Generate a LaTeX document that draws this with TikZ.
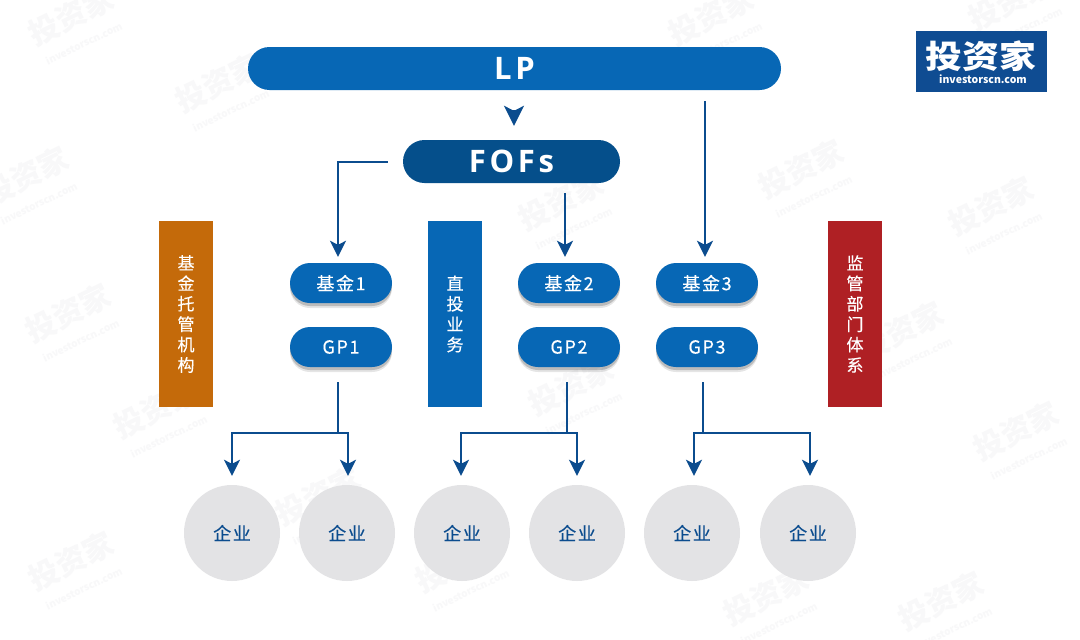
\documentclass[tikz,border=0pt]{standalone}
\usepackage{fontspec}
\setmainfont[FakeBold=0.35]{Noto Sans CJK SC}
\newfontfamily\plainfont{Noto Sans CJK SC}
\newfontfamily\spacedfont[LetterSpace=9,FakeBold=0.35]{Noto Sans CJK SC}
\newfontfamily\logofont[FakeStretch=1.15]{Noto Sans CJK SC}
\newfontfamily\headfont[LetterSpace=12]{Open Sans}
\usetikzlibrary{arrows.meta,shadows,calc}
\definecolor{mainblue}{HTML}{0767B5}
\definecolor{deepblue}{HTML}{054F8B}
\definecolor{linkblue}{HTML}{0B4C8E}
\definecolor{sideorange}{HTML}{C46A0A}
\definecolor{sidered}{HTML}{AF2024}
\definecolor{circgray}{HTML}{E3E3E5}
\definecolor{wmgray}{HTML}{F8F8F9}
\definecolor{logoblue}{HTML}{0F4C92}
\tikzset{
  x=1pt,y=-1pt,
  header/.style={fill=mainblue,rounded corners=21.5pt,minimum height=43pt,inner sep=0pt,text=white,font=\headfont\bfseries\fontsize{31}{32}\selectfont},
  pill/.style={fill=mainblue,rounded corners=20pt,minimum width=102pt,minimum height=40pt,inner sep=0pt,text=white,font=\spacedfont\fontsize{18}{20}\selectfont,
    drop shadow={shadow xshift=0pt,shadow yshift=-5pt,opacity=.10,fill=black},
    drop shadow={shadow xshift=0pt,shadow yshift=-3pt,opacity=.18,fill=black}},
  sidebar/.style={minimum width=54pt,minimum height=186pt,inner sep=0pt,text=white,align=center,font=\fontsize{17}{20.4}\selectfont},
  firm/.style={circle,fill=circgray,minimum size=96pt,inner sep=0pt,text=linkblue,font=\spacedfont\fontsize{18}{20}\selectfont},
  link/.style={draw=linkblue,line width=2pt},
  arr/.style={link,-{Stealth[length=16pt,width=16pt,inset=4pt]}},
  bigarr/.style={link,-{Stealth[length=20pt,width=20pt,inset=5pt]}},
  wm/.style={rotate=26,text=wmgray,align=center,inner sep=0pt,font=\plainfont\bfseries\fontsize{30}{26}\selectfont},
}
\newcommand{\wmtext}{投资家\\[-3pt]{\fontsize{10}{10}\selectfont investorscn.com}}
\begin{document}
\begin{tikzpicture}
\useasboundingbox (0,0) rectangle (1080,640);
\fill[white] (0,0) rectangle (1080,640);
% watermarks
\foreach \i/\a/\b in {1/75/25,2/222/92,3/715/25,4/1015/10,5/30/185,6/805/178,7/995/215,8/72/322,9/565/210,10/905/340,11/160/418,12/575/395,13/1020/440,14/322/505,15/75/570,16/462/572,17/770/605,18/945/610}
  \node[wm] (wm\i) at (\a,\b) {\wmtext};
% header
\node[header,minimum width=533pt] (lp) at (514.5,68.5) {LP};
\node[header,minimum width=217pt,fill=deepblue] (fof) at (511.5,161.5) {FOFs};
% logo
\node[fill=logoblue,minimum width=131pt,minimum height=61pt,inner sep=0pt] (logo) at (981.5,61.5) {};
\node[text=white,font=\logofont\bfseries\fontsize{32}{32}\selectfont,inner sep=0pt] (logoa) at (981,56.5) {投资家};
\node[text=white,font=\plainfont\bfseries\fontsize{10.5}{11}\selectfont,inner sep=0pt] (logob) at (983,79) {investorscn.com};
% side bars
\node[sidebar,fill=sideorange] (s1) at (186,314) {基\\金\\托\\管\\机\\构};
\node[sidebar,fill=mainblue] (s2) at (455,314) {直\\投\\业\\务};
\node[sidebar,fill=sidered] (s3) at (855,314) {监\\管\\部\\门\\体\\系};
% funds
\node[pill] (f1) at (341,283) {基金1};
\node[pill] (g1) at (341,347) {GP1};
\node[pill] (f2) at (569,283) {基金2};
\node[pill] (g2) at (569,347) {GP2};
\node[pill] (f3) at (707,283) {基金3};
\node[pill] (g3) at (707,347) {GP3};
% companies
\node[firm] (c1) at (232,533) {企业};
\node[firm] (c2) at (347,533) {企业};
\node[firm] (c3) at (462,533) {企业};
\node[firm] (c4) at (577,533) {企业};
\node[firm] (c5) at (692,533) {企业};
\node[firm] (c6) at (808,533) {企业};
% top connectors
\draw[bigarr,shorten <=20pt,shorten >=14pt] ([xshift=2.5pt]fof.north |- lp.south) -- ([xshift=2.5pt]fof.north);
\draw[arr,shorten <=11pt,shorten >=6pt] ([xshift=-2pt]f3.north |- lp.south) -- ([xshift=-2pt]f3.north);
\draw[arr,shorten <=15pt,shorten >=6pt] (fof.west) -| ([xshift=-3pt]f1.north);
\draw[arr,shorten <=10pt,shorten >=6pt] ([xshift=-4pt]f2.north |- fof.south) -- ([xshift=-4pt]f2.north);
% company trees
\foreach \g/\l/\r/\gs/\ls/\rs in {g1/c1/c2/-3pt/0pt/1pt,g2/c3/c4/-2pt/-1pt/0pt,g3/c5/c6/-4pt/2pt/2pt}{
  \coordinate (j\g) at ([xshift=\gs]\g.south |- 0,433);
  \draw[link,shorten <=15pt] ([xshift=\gs]\g.south) -- (j\g);
  \draw[arr,shorten >=9pt] (j\g) -| ([xshift=\ls]\l.north);
  \draw[arr,shorten >=9pt] (j\g) -| ([xshift=\rs]\r.north);
}
\end{tikzpicture}
\end{document}
